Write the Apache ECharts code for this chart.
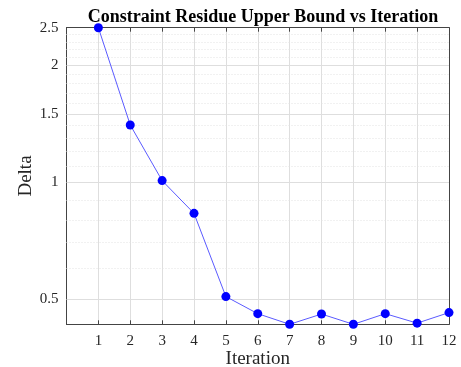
<!DOCTYPE html>
<html>
<head>
<meta charset="utf-8">
<script src="https://cdn.jsdelivr.net/npm/echarts@6/dist/echarts.min.js"></script>
<style>
  html, body { margin: 0; padding: 0; background: #fff; }
  #chart { width: 461px; height: 367px; }
</style>
</head>
<body>
<div id="chart"></div>
<script>
const iterations = [1, 2, 3, 4, 5, 6, 7, 8, 9, 10, 11, 12];
const delta = [2.5, 1.404, 1.01, 0.832, 0.508, 0.459, 0.431, 0.458, 0.431, 0.459, 0.434, 0.462];
const yTicks = [0.5, 1, 1.5, 2, 2.5];
const yMinor = [0.6, 0.7, 0.8, 0.9, 1.1, 1.2, 1.3, 1.4, 1.6, 1.7, 1.8, 1.9, 2.1, 2.2, 2.3, 2.4];

const font = '"Liberation Serif", "DejaVu Serif", serif';
const axisColor = '#444';

const myChart = echarts.init(document.getElementById('chart'));

// horizontal grid lines (major solid, minor dotted)
const gridLines = [];
yTicks.forEach(v => {
  if (v < 2.5) gridLines.push({ yAxis: v, lineStyle: { color: '#dedede', width: 1, type: 'solid' } });
});
yMinor.forEach(v => {
  gridLines.push({ yAxis: v, lineStyle: { color: '#e3e3e3', width: 1, type: [1, 2] } });
});

const option = {
  animation: false,
  title: {
    text: 'Constraint Residue Upper Bound vs Iteration',
    left: 258,
    textAlign: 'center',
    top: 3,
    textStyle: { fontFamily: font, fontWeight: 'bold', fontSize: 18, color: '#000' }
  },
  grid: { left: 66.5, right: 12, top: 27.7, bottom: 42.7, containLabel: false, outerBoundsMode: 'none' },
  xAxis: [{
    type: 'value',
    min: 0, max: 12, interval: 1,
    name: 'Iteration',
    nameLocation: 'middle',
    nameGap: 25,
    nameMoveOverlap: false,
    nameTextStyle: { fontFamily: font, fontSize: 19, color: '#262626' },
    axisLine: { show: true, lineStyle: { color: axisColor } },
    axisTick: { show: true, inside: true, length: 4, lineStyle: { color: axisColor } },
    axisLabel: {
      margin: 9, fontFamily: font, fontSize: 15, color: '#262626',
      formatter: v => (v === 0 ? '' : String(v))
    },
    splitLine: { show: true, lineStyle: { color: '#dedede' } }
  }, {
    type: 'value',
    position: 'top',
    min: 0, max: 12, interval: 1,
    axisLine: { show: true, onZero: false, lineStyle: { color: axisColor } },
    axisTick: { show: true, inside: true, length: 4, lineStyle: { color: axisColor } },
    axisLabel: { show: false },
    splitLine: { show: false }
  }],
  yAxis: [{
    type: 'log',
    min: 0.431, max: 2.5,
    name: 'Delta',
    nameLocation: 'middle',
    nameGap: 31,
    nameMoveOverlap: false,
    nameTextStyle: { fontFamily: font, fontSize: 19, color: '#262626' },
    axisLine: { show: true, lineStyle: { color: axisColor } },
    axisTick: { show: true, inside: true, length: 4, customValues: yTicks, lineStyle: { color: axisColor } },
    axisLabel: {
      margin: 8, fontFamily: font, fontSize: 15, color: '#262626',
      customValues: yTicks,
      formatter: v => String(v)
    },
    splitLine: { show: false }
  }, {
    type: 'log',
    position: 'right',
    min: 0.431, max: 2.5,
    axisLine: { show: true, onZero: false, lineStyle: { color: axisColor } },
    axisTick: { show: true, inside: true, length: 4, customValues: yTicks, lineStyle: { color: axisColor } },
    axisLabel: { show: false, customValues: yTicks },
    splitLine: { show: false }
  }],
  series: [{
    type: 'line',
    z: 1,
    data: [],
    silent: true,
    markLine: {
      silent: true,
      z: 1,
      symbol: 'none',
      label: { show: false },
      data: gridLines
    }
  }, {
    type: 'line',
    z: 10,
    data: iterations.map((x, i) => [x, delta[i]]),
    lineStyle: { color: '#5a5aff', width: 1 },
    itemStyle: { color: '#0000ff' },
    symbol: 'circle',
    symbolSize: 9,
    showSymbol: true,
    clip: false
  }]
};
myChart.setOption(option);
</script>
</body>
</html>
